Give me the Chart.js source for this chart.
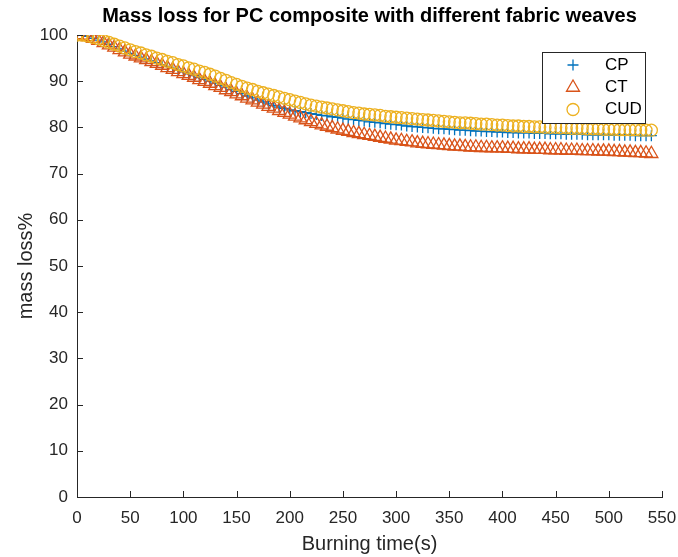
<!DOCTYPE html>
<html><head><meta charset="utf-8">
<script src="https://cdn.jsdelivr.net/npm/chart.js@4/dist/chart.umd.min.js"></script>
<style>html,body{margin:0;padding:0;background:#fff}#wrap{width:678px;height:557px}</style>
</head><body><div id="wrap"><canvas id="c" width="678" height="557"></canvas></div>
<script>
const chartTitle = 'Mass loss for PC composite with different fabric weaves';
const xTitle = 'Burning time(s)';
const yTitle = 'mass loss%';
const seriesNames = ['CP', 'CT', 'CUD'];
const xTickValues = [0, 50, 100, 150, 200, 250, 300, 350, 400, 450, 500, 550];
const yTickValues = [0, 10, 20, 30, 40, 50, 60, 70, 80, 90, 100];

const times = [
  0, 5, 10, 15, 20, 25, 30, 35, 40, 45,
  50, 55, 60, 65, 70, 75, 80, 85, 90, 95,
  100, 105, 110, 115, 120, 125, 130, 135, 140, 145,
  150, 155, 160, 165, 170, 175, 180, 185, 190, 195,
  200, 205, 210, 215, 220, 225, 230, 235, 240, 245,
  250, 255, 260, 265, 270, 275, 280, 285, 290, 295,
  300, 305, 310, 315, 320, 325, 330, 335, 340, 345,
  350, 355, 360, 365, 370, 375, 380, 385, 390, 395,
  400, 405, 410, 415, 420, 425, 430, 435, 440, 445,
  450, 455, 460, 465, 470, 475, 480, 485, 490, 495,
  500, 505, 510, 515, 520, 525, 530, 535, 540
];

const cp = [
  100, 99.9, 99.7, 99.3, 98.9, 98.5, 98.0, 97.5, 97.0, 96.5,
  96.0, 95.6, 95.2, 94.8, 94.4, 94.0, 93.6, 93.2, 92.8, 92.4,
  92.0, 91.6, 91.2, 90.8, 90.4, 90.0, 89.6, 89.1, 88.7, 88.2,
  87.8, 87.3, 86.8, 86.4, 85.9, 85.5, 85.1, 84.7, 84.4, 84.1,
  83.8, 83.6, 83.4, 83.2, 83.0, 82.8, 82.6, 82.5, 82.3, 82.2,
  82.0, 81.8, 81.7, 81.5, 81.4, 81.2, 81.1, 81.0, 80.8, 80.7,
  80.6, 80.5, 80.3, 80.2, 80.1, 80.0, 79.9, 79.8, 79.7, 79.7,
  79.6, 79.5, 79.4, 79.4, 79.3, 79.2, 79.2, 79.1, 79.1, 79.0,
  79.0, 78.9, 78.9, 78.8, 78.8, 78.8, 78.7, 78.7, 78.7, 78.6,
  78.6, 78.6, 78.5, 78.5, 78.5, 78.5, 78.4, 78.4, 78.4, 78.4,
  78.4, 78.3, 78.3, 78.3, 78.3, 78.2, 78.2, 78.2, 78.2
];

const ct = [
  100, 99.9, 99.6, 99.2, 98.8, 98.3, 97.8, 97.3, 96.8, 96.3,
  95.8, 95.4, 95.0, 94.6, 94.2, 93.8, 93.4, 92.9, 92.5, 92.0,
  91.6, 91.2, 90.8, 90.3, 89.9, 89.5, 89.0, 88.6, 88.1, 87.7,
  87.2, 86.8, 86.3, 85.9, 85.4, 85.0, 84.5, 84.1, 83.6, 83.2,
  82.8, 82.4, 82.0, 81.6, 81.2, 80.8, 80.5, 80.2, 79.9, 79.6,
  79.3, 79.1, 78.8, 78.6, 78.4, 78.2, 78.0, 77.8, 77.6, 77.4,
  77.2, 77.1, 76.9, 76.8, 76.6, 76.5, 76.4, 76.3, 76.2, 76.1,
  76.0, 75.9, 75.9, 75.8, 75.7, 75.7, 75.6, 75.6, 75.5, 75.5,
  75.5, 75.4, 75.4, 75.3, 75.3, 75.3, 75.2, 75.2, 75.2, 75.1,
  75.1, 75.1, 75.0, 75.0, 75.0, 74.9, 74.9, 74.9, 74.8, 74.8,
  74.8, 74.7, 74.7, 74.6, 74.6, 74.5, 74.5, 74.4, 74.3
];

const cud = [
  100, 100, 99.8, 99.5, 99.2, 98.8, 98.4, 98.0, 97.6, 97.2,
  96.8, 96.4, 96.1, 95.7, 95.4, 95.0, 94.7, 94.3, 94.0, 93.6,
  93.3, 92.9, 92.6, 92.2, 91.9, 91.5, 91.1, 90.6, 90.2, 89.7,
  89.3, 88.9, 88.5, 88.2, 87.8, 87.5, 87.2, 86.9, 86.6, 86.3,
  86.0, 85.7, 85.4, 85.1, 84.8, 84.6, 84.4, 84.2, 84.0, 83.8,
  83.6, 83.4, 83.2, 83.1, 82.9, 82.8, 82.7, 82.6, 82.4, 82.3,
  82.2, 82.1, 82.0, 81.9, 81.8, 81.7, 81.6, 81.5, 81.4, 81.3,
  81.2, 81.1, 81.0, 81.0, 80.9, 80.8, 80.7, 80.7, 80.6, 80.5,
  80.5, 80.4, 80.3, 80.3, 80.2, 80.2, 80.1, 80.1, 80.0, 80.0,
  80.0, 79.9, 79.9, 79.8, 79.8, 79.8, 79.7, 79.7, 79.7, 79.6,
  79.6, 79.6, 79.5, 79.5, 79.5, 79.5, 79.4, 79.4, 79.4
];

const colors = ['#0072BD', '#D95319', '#EDB120'];
const styles = [
  {pointStyle: 'cross', radius: 5.5},
  {pointStyle: 'triangle', radius: 7.5},
  {pointStyle: 'circle', radius: 6}
];
const axisColor = '#262626';
const FONT = '"Liberation Sans", Arial, Helvetica, sans-serif';

function toPoints(vals) { return times.map((t, i) => ({x: t, y: vals[i]})); }
const seriesValues = [cp, ct, cud];

const datasets = seriesValues.map((vals, i) => ({
  label: seriesNames[i],
  data: toPoints(vals),
  showLine: false,
  borderColor: colors[i],
  backgroundColor: 'rgba(0,0,0,0)',
  pointStyle: styles[i].pointStyle,
  pointRadius: styles[i].radius,
  pointHoverRadius: styles[i].radius,
  pointBorderWidth: 1.3,
  order: 3 - i
}));

const decorPlugin = {
  id: 'decor',
  afterDraw(chart) {
    const ctx = chart.ctx;
    const xs = chart.scales.x, ys = chart.scales.y;
    const ca = chart.chartArea;
    ctx.save();
    ctx.strokeStyle = axisColor;
    ctx.lineWidth = 1;
    ctx.beginPath();
    xTickValues.forEach(v => {
      const px = Math.round(xs.getPixelForValue(v)) + 0.5;
      ctx.moveTo(px, ca.bottom);
      ctx.lineTo(px, ca.bottom - 6);
    });
    yTickValues.forEach(v => {
      const py = Math.round(ys.getPixelForValue(v)) + 0.5;
      ctx.moveTo(ca.left, py);
      ctx.lineTo(ca.left + 6, py);
    });
    ctx.stroke();

    const cx = (ca.left + ca.right) / 2;
    ctx.fillStyle = '#000';
    ctx.font = 'bold 20px ' + FONT;
    ctx.textAlign = 'center';
    ctx.textBaseline = 'middle';
    ctx.fillText(chartTitle, cx, 16);

    ctx.fillStyle = axisColor;
    ctx.font = '20px ' + FONT;
    ctx.fillText(xTitle, cx, 544);
    ctx.save();
    ctx.translate(26, (ca.top + ca.bottom) / 2);
    ctx.rotate(-Math.PI / 2);
    ctx.fillText(yTitle, 0, 0);
    ctx.restore();

    const lx = 542, ly = 52, lw = 103, lh = 71;
    ctx.fillStyle = '#fff';
    ctx.fillRect(lx, ly, lw, lh);
    ctx.strokeStyle = axisColor;
    ctx.lineWidth = 1;
    ctx.strokeRect(lx + 0.5, ly + 0.5, lw, lh);
    const rowY = [65, 87.5, 109.5];
    seriesNames.forEach((name, i) => {
      ctx.strokeStyle = colors[i];
      ctx.fillStyle = 'rgba(0,0,0,0)';
      ctx.lineWidth = 1.3;
      Chart.helpers.drawPoint(ctx, {pointStyle: styles[i].pointStyle, radius: styles[i].radius, rotation: 0, borderWidth: 1.3}, 573, rowY[i]);
      ctx.fillStyle = '#000';
      ctx.font = '17px ' + FONT;
      ctx.textAlign = 'left';
      ctx.textBaseline = 'middle';
      ctx.fillText(name, 605, rowY[i]);
    });
    ctx.restore();
  }
};

new Chart(document.getElementById('c'), {
  type: 'scatter',
  data: {datasets},
  options: {
    responsive: false,
    animation: false,
    devicePixelRatio: 1,
    layout: {padding: {top: 35, right: 16, left: 0, bottom: 0}},
    plugins: {legend: {display: false}, title: {display: false}, tooltip: {enabled: false}},
    scales: {
      x: {
        type: 'linear', min: 0, max: 550,
        afterFit(s) { s.height = 60; s.paddingLeft = 0; s.paddingRight = 0; },
        afterBuildTicks(s) { s.ticks = xTickValues.map(v => ({value: v})); },
        ticks: {color: axisColor, font: {family: FONT, size: 17}, padding: 3, maxRotation: 0, autoSkip: false},
        grid: {display: false},
        border: {display: true, color: axisColor, width: 1}
      },
      y: {
        type: 'linear', min: 0, max: 100,
        afterFit(s) { s.width = 77; s.paddingTop = 0; s.paddingBottom = 0; },
        afterBuildTicks(s) { s.ticks = yTickValues.map(v => ({value: v})); },
        ticks: {color: axisColor, font: {family: FONT, size: 17}, padding: 1, autoSkip: false},
        grid: {display: false},
        border: {display: true, color: axisColor, width: 1}
      }
    }
  },
  plugins: [decorPlugin]
});
</script>
</body></html>
